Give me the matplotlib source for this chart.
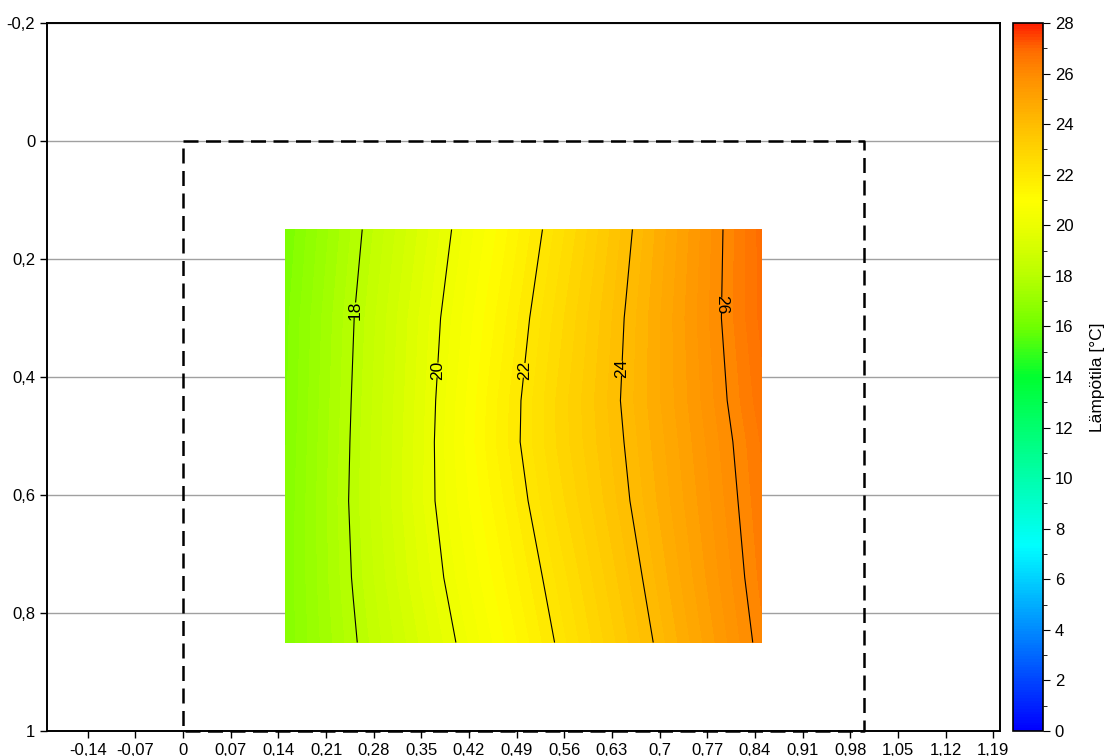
import numpy as np
import matplotlib
matplotlib.use("Agg")
import matplotlib.pyplot as plt
from matplotlib.colors import LinearSegmentedColormap, Normalize
from matplotlib.cm import ScalarMappable
from matplotlib.ticker import FuncFormatter, MultipleLocator

plt.rcParams['font.family'] = ['Liberation Sans', 'DejaVu Sans']

grid_x = [0.15, 0.25, 0.35, 0.45, 0.55, 0.65, 0.75, 0.85]
grid_y = [0.15, 0.30, 0.44, 0.51, 0.61, 0.74, 0.85]
temps = [
    [16.27, 17.80, 19.33, 20.84, 22.33, 23.85, 25.35, 26.86],
    [16.41, 17.98, 19.56, 21.12, 22.61, 24.03, 25.43, 26.83],
    [16.45, 18.05, 19.65, 21.32, 22.79, 24.10, 25.36, 26.66],
    [16.48, 18.08, 19.68, 21.36, 22.78, 24.03, 25.28, 26.53],
    [16.52, 18.11, 19.70, 21.20, 22.61, 23.92, 25.18, 26.44],
    [16.55, 18.04, 19.54, 20.94, 22.30, 23.67, 25.01, 26.33],
    [16.54, 17.92, 19.30, 20.68, 22.06, 23.44, 24.82, 26.18],
]
line_levels = [18, 20, 22, 24, 26]
label_pos = [(0.251, 0.286), (0.372, 0.388), (0.497, 0.388), (0.643, 0.385), (0.791, 0.278)]
label_rot = [90, 90, 90, 90, -90]

# room outline (dashed)
box_x = [0, 1, 1, 0, 0]
box_y = [0, 0, 1, 1, 0]

x_ticks = [-0.14, -0.07, 0, 0.07, 0.14, 0.21, 0.28, 0.35, 0.42, 0.49, 0.56,
           0.63, 0.7, 0.77, 0.84, 0.91, 0.98, 1.05, 1.12, 1.19]
y_ticks = [-0.2, 0, 0.2, 0.4, 0.6, 0.8, 1]
cbar_ticks = list(range(0, 29, 2))

# colour scale nodes (temperature, colour)
cmap_vals = [0, 7.3, 14, 16, 18, 20, 21, 24, 26, 27, 28]
cmap_cols = ["#0000ff", "#00ffff", "#00ff30", "#70ff00", "#b8ff00", "#ecff00",
             "#ffff00", "#ffbe00", "#ff8c00", "#ff6a00", "#ff2000"]
cmap = LinearSegmentedColormap.from_list(
    "temp", [(v / 28, c) for v, c in zip(cmap_vals, cmap_cols)])
norm = Normalize(0, 28)

fig = plt.figure(figsize=(11.09, 7.56), dpi=100)
ax = fig.add_axes([47 / 1109, 25 / 756, 953 / 1109, 708 / 756])

X, Y = np.meshgrid(grid_x, grid_y)
T = np.array(temps)
ax.contourf(X, Y, T, levels=np.arange(0, 28.01, 0.25), cmap=cmap, norm=norm, zorder=2)
cs = ax.contour(X, Y, T, levels=line_levels, colors='black', linewidths=0.8, zorder=3)
labels = ax.clabel(cs, fmt='%d', fontsize=12.5, manual=label_pos, inline=True, inline_spacing=3)
for t in labels:
    lev = int(t.get_text())
    t.set_rotation(label_rot[line_levels.index(lev)])

ax.plot(box_x, box_y, color='black', lw=1.8, ls=(0, (6, 3)), zorder=4, clip_on=False)

ax.set_xlim(-0.2, 1.2)
ax.set_ylim(1, -0.2)
ax.set_xticks(x_ticks)
ax.set_yticks(y_ticks)
fmt = FuncFormatter(lambda v, p: f"{round(v, 2):g}".replace('.', ','))
ax.xaxis.set_major_formatter(fmt)
ax.yaxis.set_major_formatter(fmt)
ax.tick_params(labelsize=12, direction='out', length=5, width=1, top=False, right=False)
ax.yaxis.grid(True, color='#a0a0a0', lw=1)
ax.set_axisbelow(True)
for s in ax.spines.values():
    s.set_linewidth(1.4)

cax = fig.add_axes([1013 / 1109, 25 / 756, 30 / 1109, 708 / 756])
cb = fig.colorbar(ScalarMappable(norm=norm, cmap=cmap), cax=cax)
cb.set_ticks(cbar_ticks)
cb.ax.yaxis.set_minor_locator(MultipleLocator(1))
cb.ax.tick_params(which='major', labelsize=12, length=5)
cb.ax.tick_params(which='minor', length=3)
cb.outline.set_linewidth(1.2)
cb.set_label("Lämpötila [°C]", fontsize=12.5, labelpad=12)

fig.savefig("out.png", dpi=100)
